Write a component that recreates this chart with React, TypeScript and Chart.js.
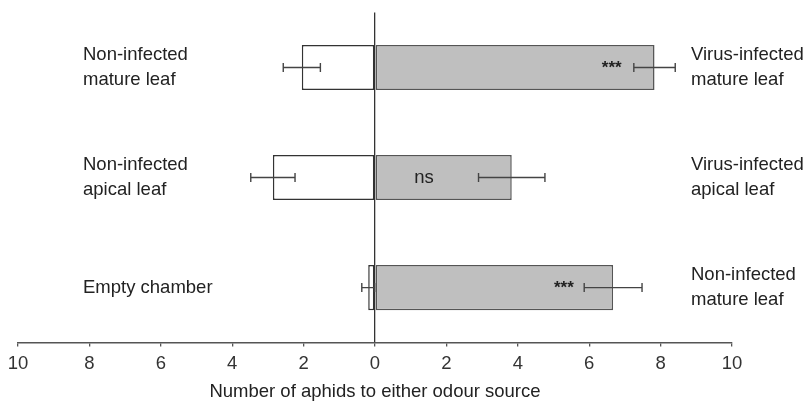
import React, { useEffect, useRef } from "react";
import { Chart, registerables } from "chart.js";

Chart.register(...registerables);

const categories = ["Mature leaf", "Apical leaf", "Control"];
const leftLabels = [["Non-infected", "mature leaf"], ["Non-infected", "apical leaf"], ["Empty chamber"]];
const rightLabels = [["Virus-infected", "mature leaf"], ["Virus-infected", "apical leaf"], ["Non-infected", "mature leaf"]];
const leftValues = [-2.05, -2.86, -0.19];
const leftErrors = [0.52, 0.62, 0.18];
const rightValues = [7.83, 3.83, 6.67];
const rightErrors = [0.58, 0.93, 0.81];
const sigLabels = ["***", "ns", "***"];
const sigPositions = [6.63, 1.37, 5.29];
const xTicks = [-10, -8, -6, -4, -2, 0, 2, 4, 6, 8, 10];
const xTitle = "Number of aphids to either odour source";

const FONT = "'Liberation Sans', Arial, Helvetica, sans-serif";

const overlayPlugin = {
  id: "overlay",
  afterDatasetsDraw(chart: any) {
    const { ctx, scales } = chart;
    const xs = scales.x;
    const ys = scales.y;
    ctx.save();
    // error bars
    const drawErr = (vals: number[], errs: number[]) => {
      vals.forEach((v, i) => {
        const y = ys.getPixelForValue(i);
        const x1 = xs.getPixelForValue(v - errs[i]);
        const x2 = xs.getPixelForValue(v + errs[i]);
        ctx.strokeStyle = "#444";
        ctx.lineWidth = 1.4;
        ctx.beginPath();
        ctx.moveTo(x1, y);
        ctx.lineTo(x2, y);
        ctx.moveTo(x1, y - 4.5);
        ctx.lineTo(x1, y + 4.5);
        ctx.moveTo(x2, y - 4.5);
        ctx.lineTo(x2, y + 4.5);
        ctx.stroke();
      });
    };
    drawErr(leftValues, leftErrors);
    drawErr(rightValues, rightErrors);

    // significance labels
    ctx.fillStyle = "#222";
    ctx.textAlign = "center";
    ctx.textBaseline = "middle";
    sigLabels.forEach((s, i) => {
      const x = xs.getPixelForValue(sigPositions[i]);
      const y = ys.getPixelForValue(i);
      if (s === "ns") {
        ctx.font = `18.5px ${FONT}`;
        ctx.fillText(s, x, y);
      } else {
        ctx.font = `bold 17px ${FONT}`;
        ctx.fillText(s, x, y + 1);
      }
    });

    // side labels
    ctx.font = `18.5px ${FONT}`;
    ctx.textAlign = "left";
    ctx.fillStyle = "#222";
    const drawLabels = (labels: string[][], x: number) => {
      labels.forEach((lines, i) => {
        const yc = ys.getPixelForValue(i);
        const lh = 25;
        const start = yc - ((lines.length - 1) * lh) / 2;
        lines.forEach((t, j) => ctx.fillText(t, x, start + j * lh));
      });
    };
    drawLabels(leftLabels, 83);
    drawLabels(rightLabels, 691);
    ctx.restore();
  },
};

export default function App() {
  const ref = useRef<HTMLCanvasElement>(null);
  useEffect(() => {
    if (!ref.current) return;
    Chart.defaults.font.family = FONT;
    const chart = new Chart(ref.current, {
      type: "bar",
      data: {
        labels: categories,
        datasets: [
          {
            label: "Left",
            data: leftValues,
            backgroundColor: "#ffffff",
            borderColor: "#333333",
            borderWidth: 1.5,
            borderSkipped: false,
          },
          {
            label: "Right",
            data: rightValues,
            backgroundColor: "#bfbfbf",
            borderColor: "#555555",
            borderWidth: 1.5,
            borderSkipped: false,
          },
        ],
      },
      options: {
        indexAxis: "y",
        animation: false,
        responsive: false,
        maintainAspectRatio: false,
        datasets: { bar: { categoryPercentage: 0.41, barPercentage: 1 } },
        layout: { padding: { left: 18, right: 76, top: 12.5, bottom: 0 } },
        plugins: { legend: { display: false }, tooltip: { enabled: false } },
        scales: {
          y: { display: false, stacked: true },
          x: {
            stacked: true,
            min: -10,
            max: 10,
            afterBuildTicks: (axis: any) => {
              axis.ticks = xTicks.map((v) => ({ value: v }));
            },
            grid: {
              color: (c: any) => (c.tick && c.tick.value === 0 ? "#333" : "rgba(0,0,0,0)"),
              lineWidth: 1.3,
              tickColor: "#555",
              tickLength: 4,
              drawOnChartArea: true,
            },
            border: { display: true, color: "#555", width: 1.5 },
            ticks: {
              padding: 6,
              color: "#333",
              font: { size: 18.5, family: FONT },
              callback: (v: any) => String(Math.abs(Number(v))),
            },
            title: {
              display: true,
              text: xTitle,
              color: "#222",
              font: { size: 18.5, family: FONT },
              padding: { top: 0, bottom: 3 },
            },
          },
        },
      },
      plugins: [overlayPlugin],
    });
    return () => chart.destroy();
  }, []);
  return (
    <div style={{ position: "absolute", left: 0, top: 0, width: 808, height: 406 }}>
      <canvas ref={ref} width={808} height={406} style={{ display: "block" }} />
    </div>
  );
}
